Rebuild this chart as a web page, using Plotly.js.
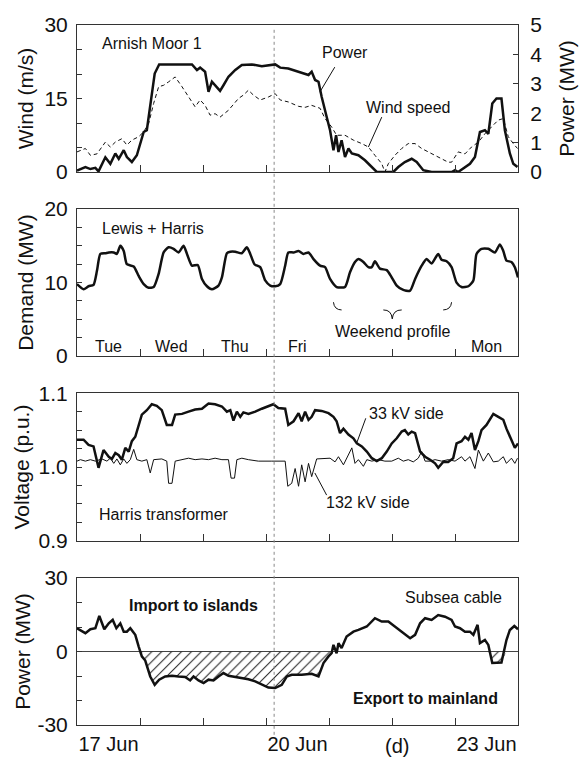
<!DOCTYPE html>
<html><head><meta charset="utf-8">
<script src="https://cdn.plot.ly/plotly-3.0.1.min.js"></script>
<style>html,body{margin:0;padding:0;background:#fff}#chart{width:583px;height:758px}</style>
</head><body><div id="chart"></div>
<script>
// ---- Data (time in hours from 17 Jun 00:00) ----
const powerHours = [0,3.2,5.1,7.0,8.2,10.8,12.7,14.6,15.9,17.8,19.0,20.9,22.8,25.4,26.6,27.9,29.6,31.3,36.2,43.8,45.7,46.9,48.8,50.1,51.4,52.6,54.5,55.8,57.7,60.3,62.8,66.6,70.4,75.5,77.4,80.5,84.4,86.9,88.2,89.4,90.7,92.0,93.2,95.1,96.4,97.7,98.7,99.6,100.8,102.1,103.4,104.7,107.2,109.7,112.3,114.2,118.6,120.5,122.4,124.9,127.5,129.4,131.9,135.1,142.7,144.0,145.2,147.1,149.7,151.6,153.5,155.4,156.7,158.2,159.8,161.7,163.0,164.9,166.2,167.8];
const powerMW = [0.05,0.17,0.1,0.14,0.02,0.5,0.28,0.63,0.45,0.74,0.51,0.34,0.57,1.36,1.42,2.2,3.35,3.66,3.66,3.66,3.47,3.55,3.41,2.73,3.07,2.95,2.76,2.95,3.24,3.47,3.64,3.66,3.6,3.66,3.55,3.52,3.41,3.35,3.3,3.41,3.13,3.07,2.56,1.88,1.42,0.74,1.25,0.68,1.08,0.51,0.8,0.63,0.57,0.4,0.17,0,0,0,0.17,0.34,0.45,0.34,0.06,0,0,0.06,0,0.11,0.28,0.51,1.36,1.42,1.3,2.33,2.5,2.5,1.42,0.63,0.28,0.17];

const windHours = [0,3.2,5.1,7.6,10.8,12.7,14.6,17.1,19.0,20.9,23.5,25.4,27.3,29.2,31.1,33.0,34.9,37.4,40.0,42.5,45.0,46.9,48.8,50.7,52.6,54.5,57.7,61.5,63.4,65.3,67.2,69.8,72.9,75.5,77.4,80.5,84.4,86.9,89.4,92.6,94.5,97.0,98.9,102.1,105.3,108.5,111.0,113.5,116.1,117.3,118.6,121.1,123.7,126.2,128.8,131.3,133.8,137.6,141.4,142.7,145.2,147.8,150.3,152.9,155.4,157.9,160.5,162.4,164.3,166.2,167.8];
const windSpeed = [4.1,4.8,3.4,3.7,6.1,5.1,6.1,6.8,5.5,6.5,7.2,8.2,9.9,14.0,17.4,17.7,18.4,19.4,17.4,15.3,13.3,14.7,13.6,11.6,11.9,11.2,12.6,15.0,15.7,16.7,15.7,14.7,15.3,16.0,14.7,14.3,13.4,13.2,13.6,13.0,10.9,9.2,7.5,7.5,6.5,5.8,5.1,3.4,1.7,0,1.7,3.4,4.8,5.8,5.8,4.8,4.1,3.1,2.0,2.0,4.1,3.7,5.1,6.1,7.8,9.2,10.6,10.9,7.2,5.8,4.8];

const demandHours = [0,2.5,4.4,6.3,7.6,8.9,10.8,12.1,14.0,15.2,16.5,17.8,19.0,21.6,23.5,25.4,27.3,29.2,31.1,33.0,34.9,36.8,38.7,40.6,41.9,43.8,46.0,47.6,49.5,51.4,53.9,55.2,57.1,58.4,60.3,62.8,64.7,66.0,67.6,69.8,71.7,73.6,75.5,77.4,79.3,80.5,82.5,84.4,86.3,88.2,90.1,92.6,94.5,96.4,98.9,102.1,104.0,105.9,107.2,109.1,111.0,112.3,113.5,115.4,118.0,119.9,121.8,124.3,126.9,128.8,131.3,133.2,135.1,137.6,138.9,140.8,142.7,144.6,146.5,149.1,151.0,152.2,154.1,156.7,159.2,161.1,162.4,163.6,165.5,166.8,168];
const demandMW = [9.8,9.1,9.5,9.7,11.6,13.9,14.0,14.1,14.1,13.9,15.0,14.3,12.5,12.2,10.9,9.8,9.3,9.4,11.2,14.1,14.8,14.6,14.1,15.0,13.9,12.3,12.4,10.5,9.5,9.1,9.6,10.7,14.0,14.2,14.2,14.0,14.8,13.9,12.5,12.1,10.3,9.6,9.5,9.8,12.3,14.1,14.1,14.3,13.9,14.1,13.2,12.3,12.1,10.5,9.4,9.4,11.4,12.8,13.2,12.8,12.1,12.1,12.9,11.9,11.7,10.7,9.6,9.0,8.9,10.5,12.3,13.2,12.6,13.9,13.1,12.9,12.1,10.0,9.4,9.5,10.3,13.9,14.6,14.6,14.1,15.2,14.3,13.0,12.8,12.1,10.7];

const v33Hours = [0,2.5,4.4,6.3,8.2,10.1,12.1,13.3,14.6,15.9,17.1,18.4,19.7,20.9,22.2,23.5,24.7,26.6,28.5,30.4,32.3,34.2,36.2,37.4,40.0,42.5,45.0,47.6,50.1,52.6,55.2,57.1,58.4,59.6,60.9,62.2,63.4,65.3,67.9,70.4,72.9,74.8,76.7,79.3,80.5,82.5,84.4,85.6,86.9,88.2,89.4,90.7,93.2,95.8,97.7,98.9,100.2,101.5,103.4,105.3,106.6,108.5,110.4,112.3,114.2,116.1,118.0,119.9,121.8,123.7,124.9,126.2,127.5,128.8,130.7,132.6,134.5,136.4,137.6,139.5,141.4,143.3,144.6,146.5,147.8,149.1,150.3,151.6,152.9,154.1,156.0,158.6,160.5,162.4,163.6,165.5,166.8,168];
const v33 = [1.037,1.037,1.030,1.028,0.999,1.023,1.014,1.011,1.019,1.016,1.010,1.026,1.021,1.035,1.041,1.057,1.071,1.077,1.085,1.083,1.077,1.057,1.057,1.071,1.072,1.075,1.078,1.079,1.086,1.085,1.082,1.075,1.077,1.063,1.075,1.068,1.074,1.072,1.075,1.079,1.082,1.085,1.080,1.079,1.057,1.062,1.073,1.062,1.075,1.064,1.068,1.077,1.076,1.073,1.068,1.062,1.046,1.052,1.044,1.039,1.032,1.028,1.021,1.012,1.008,1.012,1.021,1.032,1.039,1.048,1.050,1.044,1.048,1.046,1.021,1.014,1.010,1.005,0.999,1.007,1.007,1.012,1.032,1.035,1.041,1.037,1.046,1.023,1.035,1.050,1.057,1.072,1.068,1.064,1.052,1.037,1.026,1.032];

const v132Hours = [0,1.3,3.2,5.1,7.0,9.5,11.4,12.7,14.0,15.2,16.5,17.8,19.0,20.3,21.6,22.8,24.7,26.6,27.9,29.2,32.3,34.2,34.9,36.2,37.4,40.0,42.5,45.0,47.6,50.1,52.6,55.2,57.7,58.7,60.0,60.9,62.8,65.3,69.1,74.2,79.3,80.3,81.8,83.1,84.4,85.6,86.9,88.2,89.4,91.3,94.5,96.4,98.3,99.6,101.5,103.4,104.7,105.9,107.2,109.1,110.4,112.3,114.8,117.3,119.9,122.4,124.3,126.2,128.1,130.0,131.3,132.6,134.5,136.4,138.9,141.4,144.0,146.5,147.8,149.7,151.6,152.9,154.8,156.7,158.6,160.5,162.4,163.6,165.5,166.8,167.8];
const v132 = [1.008,1.010,1.008,1.010,1.008,1.011,1.008,1.012,1.005,1.011,1.003,1.011,1.005,1.010,1.024,1.010,1.008,1.010,0.992,1.010,1.011,1.008,0.978,0.978,1.008,1.010,1.012,1.010,1.011,1.010,1.012,1.010,1.010,0.985,0.985,1.010,1.012,1.010,1.008,1.008,1.008,0.974,0.978,0.998,0.974,1.003,0.980,1.005,0.987,1.011,1.011,1.012,1.007,1.014,1.003,1.016,1.026,1.005,1.010,1.001,1.010,1.008,1.010,1.008,1.008,1.012,1.008,1.010,1.007,1.012,1.021,1.008,1.008,1.010,1.008,1.010,1.008,1.014,1.008,1.014,0.998,1.023,1.008,1.019,1.007,1.008,1.014,1.005,1.012,1.005,1.012];

const cableHours = [0,1.9,3.2,5.1,7.0,8.5,10.4,12.1,13.6,15.0,16.5,17.8,19.0,20.3,22.2,23.5,24.7,26.0,27.9,29.6,31.3,33.6,36.2,38.7,41.2,43.1,44.4,46.3,48.2,50.1,52.0,53.9,55.8,57.7,60.3,62.8,65.3,67.9,70.4,72.9,75.5,78.0,79.9,81.8,85.6,89.4,92.0,93.9,95.8,97.0,97.7,98.9,99.6,100.8,102.7,105.3,107.2,110.4,113.5,116.1,118.6,121.8,124.9,126.9,128.8,130.7,132.6,135.1,137.6,140.2,142.7,144.0,145.9,147.8,149.7,151.0,152.6,153.5,155.4,156.7,158.2,159.8,161.7,163.6,164.9,166.6,168];
const cableMW = [9.5,8.1,7.5,9.1,9.5,14.5,9.1,11.5,12.9,9.5,11.5,8.1,8.1,9.5,6.8,2.0,-2.0,-3.7,-10.2,-13.6,-11.5,-10.2,-9.9,-10.2,-10.4,-11.8,-10.2,-11.8,-12.9,-11.5,-11.8,-10.2,-8.8,-9.9,-10.4,-10.9,-11.3,-12.2,-13.6,-14.7,-14.9,-13.6,-10.2,-9.5,-9.5,-9.1,-10.2,-4.7,-2.0,-0.7,2.7,-0.7,3.4,1.4,6.1,8.1,8.8,10.2,13.6,12.2,12.2,9.5,6.8,5.4,6.8,11.5,13.6,12.9,14.9,14.2,12.9,10.2,9.5,8.1,8.1,6.8,10.9,3.4,4.7,2.7,-4.7,-4.5,-4.5,4.7,8.8,10.4,9.1];

const dayLabels = ['Tue','Wed','Thu','Fri','Mon'];
const dayLabelHours = [12,36,60,84,156];
const dateLabels = ['17 Jun','20 Jun','23 Jun'];
const dateLabelHours = [12,84,156];
const midnightHours = [24,48,72,96,120,144];
const markerHour = 75.1;

// ---- Plot ----
const FONT = 'Liberation Sans, Arial, Helvetica, sans-serif';
const INK = '#111';
const AX = '#333';

const exportFill = cableMW.map(v => Math.min(v, 0));

const traces = [
  {x: windHours, y: windSpeed, xaxis:'x', yaxis:'y', mode:'lines', line:{color:INK, width:1, dash:'4px,3px'}},
  {x: powerHours, y: powerMW, xaxis:'x', yaxis:'y5', mode:'lines', line:{color:INK, width:2.5}},
  {x: demandHours, y: demandMW, xaxis:'x2', yaxis:'y2', mode:'lines', line:{color:INK, width:2.5, shape:'spline', smoothing:0.6}},
  {x: v132Hours, y: v132, xaxis:'x3', yaxis:'y3', mode:'lines', line:{color:INK, width:1}},
  {x: v33Hours, y: v33, xaxis:'x3', yaxis:'y3', mode:'lines', line:{color:INK, width:2.5}},
  {x: cableHours, y: exportFill, xaxis:'x4', yaxis:'y4', mode:'lines', line:{width:0, color:'rgba(0,0,0,0)'}, fill:'tozeroy', fillcolor:'rgba(0,0,0,0)',
   fillpattern:{shape:'/', fgcolor:'#222', bgcolor:'rgba(255,255,255,0)', size:7, solidity:0.15}},
  {x: cableHours, y: cableMW, xaxis:'x4', yaxis:'y4', mode:'lines', line:{color:INK, width:2.5}}
];

function xax(anchor, labels) {
  const base = {domain:[0,1], anchor:anchor, range:[0,168], showline:true, mirror:true, linecolor:AX, linewidth:1,
    showgrid:false, zeroline:false, tickfont:{family:FONT, size:20, color:INK}};
  if (!labels) {
    return Object.assign(base, {tickmode:'array', tickvals:midnightHours, ticks:'inside', ticklen:7, tickcolor:AX, showticklabels:false});
  }
  return Object.assign(base, {tickmode:'array', tickvals:dateLabelHours, ticktext:dateLabels, ticks:'', ticklabelstandoff:1,
    minor:{tickmode:'array', tickvals:midnightHours, ticks:'inside', ticklen:7, tickcolor:AX}});
}
function yax(domain, range, vals, text, minorDtick, tick0, title, standoff) {
  return {domain:domain, range:range, tickmode:'array', tickvals:vals, ticktext:text,
    ticks:'inside', ticklen:5, tickcolor:AX, showline:true, mirror:true, linecolor:AX, linewidth:1, showgrid:false, zeroline:false,
    tickfont:{family:FONT, size:21, color:INK}, ticklabelstandoff:4,
    minor:{tick0:tick0, dtick:minorDtick, ticks:'inside', ticklen:5, tickcolor:AX},
    title:{text:title, font:{family:FONT, size:21, color:INK}, standoff:standoff}};
}

const layout = {
  width:583, height:758, margin:{l:77, r:65, t:25, b:33}, paper_bgcolor:'#fff', plot_bgcolor:'rgba(0,0,0,0)',
  showlegend:false, font:{family:FONT, color:INK},
  xaxis: xax('y', false), xaxis2: xax('y2', false), xaxis3: xax('y3', false), xaxis4: xax('y4', true),
  yaxis: Object.assign(yax([0.79,1], [0,30], [0,15,30], ['0','15','30'], 5, 0, 'Wind (m/s)', 5), {anchor:'x'}),
  yaxis2: Object.assign(yax([0.527,0.737], [0,20], [0,10,20], ['0','10','20'], 2.5, 0, 'Demand (MW)', 5), {anchor:'x2'}),
  yaxis3: Object.assign(yax([0.263,0.474], [0.9,1.1], [0.9,1.0,1.1], ['0.9','1.0','1.1'], 0.025, 0.9, 'Voltage (p.u.)', 3), {anchor:'x3'}),
  yaxis4: Object.assign(yax([0,0.21], [-30,30], [-30,0,30], ['-30','0','30'], 10, 0, 'Power (MW)', 1), {anchor:'x4', zeroline:true, zerolinecolor:'#444', zerolinewidth:1}),
  yaxis5: {overlaying:'y', side:'right', anchor:'x', range:[0,5], tickmode:'array', tickvals:[0,1,2,3,4,5], ticks:'inside', ticklen:5, tickcolor:AX,
    showline:true, linecolor:AX, linewidth:1, showgrid:false, zeroline:false, tickfont:{family:FONT, size:21, color:INK}, ticklabelstandoff:7,
    title:{text:'Power (MW)', font:{family:FONT, size:21, color:INK}, standoff:18}},
  shapes: [
    {type:'line', xref:'x', yref:'paper', x0:markerHour, x1:markerHour, y0:-0.014, y1:0.996, line:{color:'#888', width:1, dash:'dot'}},
    // leader lines
    {type:'line', xref:'x', yref:'y', x0:98.2, y0:21.4, x1:92.5, y1:16.3, line:{color:INK, width:1}},
    {type:'line', xref:'x', yref:'y', x0:116.1, y0:11.2, x1:111.0, y1:5.1, line:{color:INK, width:1}},
    {type:'line', xref:'x3', yref:'y3', x0:110.0, y0:1.066, x1:106.5, y1:1.032, line:{color:INK, width:1}},
    {type:'line', xref:'x3', yref:'y3', x0:95.1, y0:0.962, x1:90.6, y1:0.992, line:{color:INK, width:1}},
    // weekend brace
    {type:'path', xref:'x2', yref:'y2', path:'M 97.7 7.33 Q 98.0 6.3 100.8 6.28', line:{color:INK, width:1}},
    {type:'path', xref:'x2', yref:'y2', path:'M 116.7 6.28 Q 119.8 6.3 120.1 5.06', line:{color:INK, width:1}},
    {type:'path', xref:'x2', yref:'y2', path:'M 123.7 6.28 Q 120.4 6.3 120.1 5.06', line:{color:INK, width:1}},
    {type:'path', xref:'x2', yref:'y2', path:'M 139.5 6.28 Q 142.4 6.3 142.7 7.33', line:{color:INK, width:1}}
  ],
  annotations: []
};

const A = (o) => Object.assign({showarrow:false, font:{family:FONT, size:16, color:INK}}, o);
layout.annotations.push(
  A({xref:'x', yref:'y', x:8.75, y:26.3, xanchor:'left', yanchor:'middle', text:'Arnish Moor 1'}),
  A({xref:'x', yref:'y', x:102.1, y:24.3, xanchor:'center', yanchor:'middle', text:'Power'}),
  A({xref:'x', yref:'y', x:126.4, y:13.2, xanchor:'center', yanchor:'middle', text:'Wind speed'}),
  A({xref:'x2', yref:'y2', x:8.75, y:17.4, xanchor:'left', yanchor:'middle', text:'Lewis + Harris'}),
  A({xref:'x2', yref:'y2', x:120.2, y:3.34, xanchor:'center', yanchor:'middle', text:'Weekend profile'}),
  A({xref:'x3', yref:'y3', x:125.6, y:1.0729, xanchor:'center', yanchor:'middle', text:'33 kV side'}),
  A({xref:'x3', yref:'y3', x:111.0, y:0.9524, xanchor:'center', yanchor:'middle', text:'132 kV side'}),
  A({xref:'x3', yref:'y3', x:7.6, y:0.9362, xanchor:'left', yanchor:'middle', text:'Harris transformer'}),
  A({xref:'x4', yref:'y4', x:44.3, y:18.6, xanchor:'center', yanchor:'middle', text:'<b>Import to islands</b>'}),
  A({xref:'x4', yref:'y4', x:143.3, y:22.2, xanchor:'center', yanchor:'middle', text:'Subsea cable'}),
  A({xref:'x4', yref:'y4', x:132.8, y:-19.1, xanchor:'center', yanchor:'middle', text:'<b>Export to mainland</b>'}),
  A({xref:'x4', yref:'paper', x:121.8, y:-0.03, xanchor:'center', yanchor:'middle', text:'(d)', font:{family:FONT, size:20, color:INK}})
);
dayLabels.forEach((t, i) => layout.annotations.push(
  A({xref:'x2', yref:'y2', x:dayLabelHours[i], y:1.26, xanchor:'center', yanchor:'middle', text:t})));

Plotly.newPlot('chart', traces, layout, {staticPlot:true, displayModeBar:false});
</script>
</body></html>
